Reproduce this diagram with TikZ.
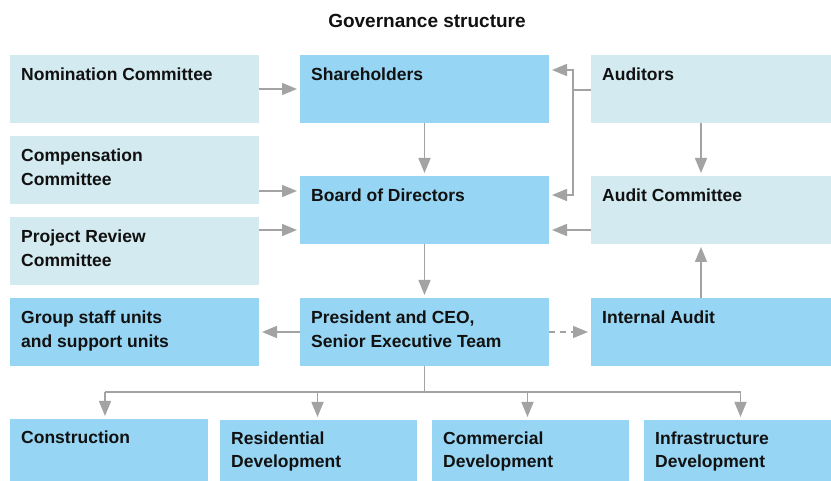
\documentclass[tikz,border=0pt]{standalone}
\usepackage{fontspec}
\setmainfont{Liberation Sans}
\usetikzlibrary{arrows.meta,calc}
\definecolor{boxblue}{HTML}{96D5F3}
\definecolor{boxlight}{HTML}{D2EAF0}
\definecolor{arrgray}{HTML}{A3A3A3}
\definecolor{txt}{HTML}{111111}
\begin{document}
\begin{tikzpicture}[x=1pt,y=-1pt,
  box/.style={draw=none,fill=#1,minimum width=249pt,minimum height=68pt,inner sep=0pt,outer sep=0pt,anchor=north west},
  lbl/.style={anchor=north west,inner sep=0pt,align=left,text=txt,font=\fontsize{17.5}{24}\selectfont\bfseries},
  arr/.style={draw=arrgray,line width=1.5pt,-{Triangle[length=15pt,width=12pt]},shorten >=3pt},
  ln/.style={draw=arrgray,line width=1.5pt}]
\useasboundingbox (0,0) rectangle (831,481);
\node[lbl,anchor=base,font=\fontsize{19}{24}\selectfont\bfseries] (title) at (427,28) {Governance structure};
% boxes
\node[box=boxlight] (nom) at (10,55) {};
\node[box=boxblue] (sh) at (300,55) {};
\node[box=boxlight] (aud) at (591,55) {};
\node[box=boxlight] (comp) at (10,136) {};
\node[box=boxblue] (bod) at (300,176) {};
\node[box=boxlight] (ac) at (591,176) {};
\node[box=boxlight] (prc) at (10,217) {};
\node[box=boxblue] (gs) at (10,298) {};
\node[box=boxblue] (pres) at (300,298) {};
\node[box=boxblue] (ia) at (591,298) {};
\node[box=boxblue,minimum width=198pt,minimum height=62pt] (con) at (10,419) {};
\node[box=boxblue,minimum width=197pt,minimum height=61pt] (res) at (220,420) {};
\node[box=boxblue,minimum width=197pt,minimum height=61pt] (com) at (432,420) {};
\node[box=boxblue,minimum width=197pt,minimum height=61pt] (inf) at (644,420) {};
% labels
\node[lbl] (tnom) at ([shift={(11,9)}]nom.north west) {\strut Nomination Committee};
\node[lbl] (tsh) at ([shift={(11,9)}]sh.north west) {\strut Shareholders};
\node[lbl] (taud) at ([shift={(11,9)}]aud.north west) {\strut Auditors};
\node[lbl] (tcomp) at ([shift={(11,9)}]comp.north west) {\strut Compensation\\Committee};
\node[lbl] (tbod) at ([shift={(11,9)}]bod.north west) {\strut Board of Directors};
\node[lbl] (tac) at ([shift={(11,9)}]ac.north west) {\strut Audit Committee};
\node[lbl] (tprc) at ([shift={(11,9)}]prc.north west) {\strut Project Review\\Committee};
\node[lbl] (tgs) at ([shift={(11,9)}]gs.north west) {\strut Group staff units\\and support units};
\node[lbl] (tpres) at ([shift={(11,9)}]pres.north west) {\strut President and CEO,\\Senior Executive Team};
\node[lbl] (tia) at ([shift={(11,9)}]ia.north west) {\strut Internal Audit};
\node[lbl] (tcon) at ([shift={(11,7)}]con.north west) {\strut Construction};
\node[lbl] (tres) at ([shift={(11,7)}]res.north west) {\strut Residential\\Development};
\node[lbl] (tcom) at ([shift={(11,7)}]com.north west) {\strut Commercial\\Development};
\node[lbl] (tinf) at ([shift={(11,7)}]inf.north west) {\strut Infrastructure\\Development};
% left arrows
\draw[arr] (nom.east) -- (sh.west);
\path ([yshift=19pt]bod.west) coordinate (bwa) ([yshift=-20pt]bod.west) coordinate (bwb);
\draw[arr] (bwa -| comp.east) -- (bwa);
\draw[arr] (bwb -| prc.east) -- (bwb);
% center arrows
\draw[arr] (sh.south) -- (bod.north);
\draw[arr] (bod.south) -- (pres.north);
\draw[arr] (pres.west) -- (gs.east);
\draw[arr,dash pattern=on 6pt off 5pt] (pres.east) -- (ia.west);
% auditors bracket
\coordinate (jx) at (573,90);
\path ([yshift=19pt]sh.east) coordinate (sea) ([yshift=15pt]bod.east) coordinate (bea);
\draw[ln] (aud.west |- jx) -- (jx);
\draw[arr] (jx |- bea) -- (jx |- sea) -- (sea);
\draw[arr] (jx) -- (jx |- bea) -- (bea);
\path ([yshift=-20pt]bod.east) coordinate (beb);
\draw[arr] (beb -| ac.west) -- (beb);
% right column
\coordinate (rx) at (701,0);
\draw[arr] (rx |- aud.south) -- (rx |- ac.north);
\draw[arr] (rx |- ia.north) -- (rx |- ac.south);
% bottom tree
\coordinate (ty) at (0,392);
\draw[ln] (pres.south) -- (pres.south |- ty);
\path (con.north |- ty) ++(-4,0) coordinate (tl) (inf.north |- ty) ++(-2,0) coordinate (tr);
\draw[ln] (tl) -- (tr);
\draw[arr] (tl) -- (tl |- con.north);
\draw[arr] ([xshift=-1pt]res.north |- ty) -- ([xshift=-1pt]res.north);
\draw[arr] ([xshift=-3pt]com.north |- ty) -- ([xshift=-3pt]com.north);
\draw[arr] (tr) -- (tr |- inf.north);
\end{tikzpicture}
\end{document}
